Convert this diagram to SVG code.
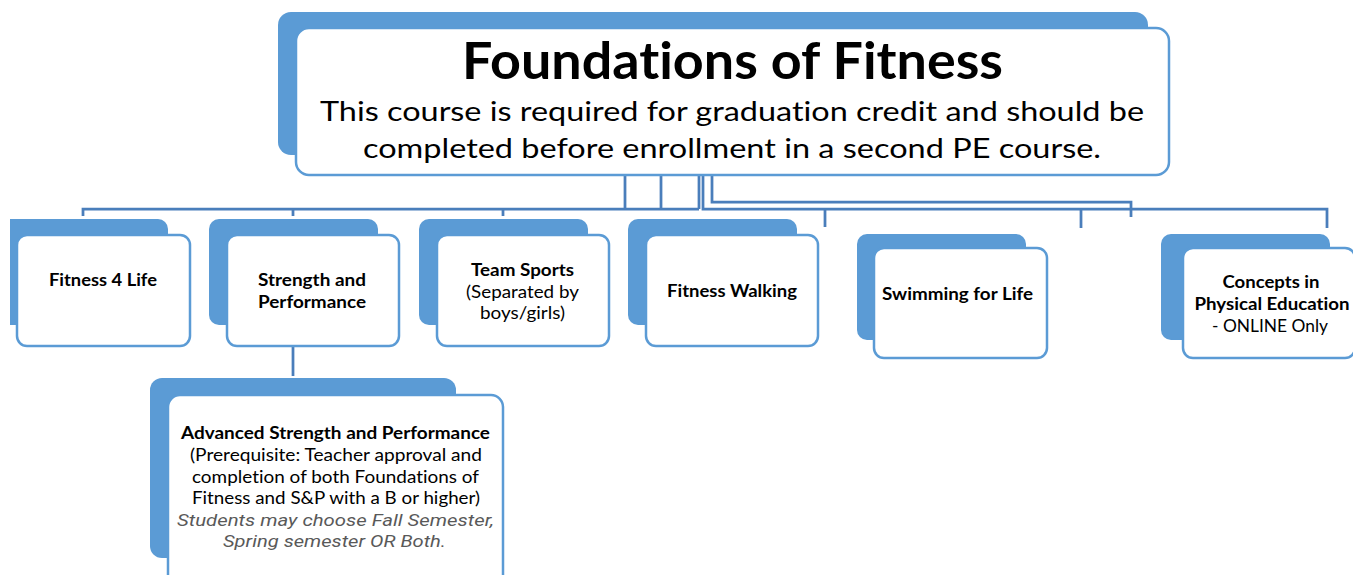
<svg xmlns="http://www.w3.org/2000/svg" width="1353" height="575" viewBox="0 0 1353 575">
<style>
.back{fill:#5B9BD5;stroke:none}
.front{fill:#FFFFFF;stroke:#5B9BD5;stroke-width:2.5}
.conn{fill:none;stroke:#4A7EBB;stroke-width:2.75}
.t{font-family:Lato,"Liberation Sans",sans-serif;fill:#000;text-anchor:middle;font-variant-ligatures:none;font-feature-settings:"liga" 0,"clig" 0,"dlig" 0,"calt" 0}
.b{font-weight:bold}
.i{font-family:Roboto,"Liberation Sans",sans-serif;font-style:italic;fill:#595959}
</style>
<defs>
<clipPath id="leftclip"><rect x="10" y="0" width="1343" height="575"/></clipPath>
</defs>
<rect width="1353" height="575" fill="#FFFFFF"/>
<g id="connectors">
<path class="conn" d="M625,175V209M661,175V209M699,175V209M83,216V209H699M293,209V216M503,209V216"/>
<path class="conn" d="M703,175V209H1327V228M825,209V227M1081,209V228"/>
<path class="conn" d="M712,175V202H1131V217"/>
<path class="conn" d="M293,346V376"/>
</g>
<g id="node-foundations">
<rect class="back" x="278" y="12" width="870" height="143" rx="13"/>
<rect class="front" x="296" y="28" width="873" height="147" rx="13"/>
<text class="t b" x="732.5" y="79" font-size="51" textLength="541" lengthAdjust="spacingAndGlyphs">Foundations of Fitness</text>
<text class="t" x="732" y="121" font-size="27" textLength="824" lengthAdjust="spacingAndGlyphs">This course is required for graduation credit and should be</text>
<text class="t" x="732" y="158" font-size="27" textLength="738" lengthAdjust="spacingAndGlyphs">completed before enrollment in a second PE course.</text>
</g>
<g id="node-fitness4life">
<g clip-path="url(#leftclip)"><rect class="back" x="-10" y="219" width="178" height="106" rx="10"/></g>
<rect class="front" x="17" y="235" width="173" height="111" rx="10"/>
<text class="t b" x="103" y="286" font-size="16.5" textLength="108" lengthAdjust="spacingAndGlyphs">Fitness 4 Life</text>
</g>
<g id="node-strength">
<rect class="back" x="209" y="219" width="169" height="106" rx="10"/>
<rect class="front" x="227" y="235" width="172" height="111" rx="10"/>
<text class="t b" x="312" y="286" font-size="16.5" textLength="108" lengthAdjust="spacingAndGlyphs">Strength and</text>
<text class="t b" x="312" y="308" font-size="16.5" textLength="108" lengthAdjust="spacingAndGlyphs">Performance</text>
</g>
<g id="node-teamsports">
<rect class="back" x="419" y="219" width="169" height="106" rx="10"/>
<rect class="front" x="437" y="235" width="172" height="111" rx="10"/>
<text class="t b" x="522.5" y="276" font-size="16.5" textLength="103" lengthAdjust="spacingAndGlyphs">Team Sports</text>
<text class="t" x="522.5" y="298" font-size="16.5" textLength="113" lengthAdjust="spacingAndGlyphs">(Separated by</text>
<text class="t" x="522.5" y="319" font-size="16.5" textLength="85" lengthAdjust="spacingAndGlyphs">boys/girls)</text>
</g>
<g id="node-walking">
<rect class="back" x="628" y="219" width="169" height="106" rx="10"/>
<rect class="front" x="646" y="235" width="172" height="111" rx="10"/>
<text class="t b" x="732" y="297" font-size="16.5" textLength="130" lengthAdjust="spacingAndGlyphs">Fitness Walking</text>
</g>
<g id="node-swimming">
<rect class="back" x="857" y="234" width="169" height="106" rx="10"/>
<rect class="front" x="874" y="248" width="173" height="110" rx="10"/>
<text class="t b" x="957.5" y="300" font-size="16.5" textLength="151" lengthAdjust="spacingAndGlyphs">Swimming for Life</text>
</g>
<g id="node-concepts">
<rect class="back" x="1161" y="234" width="169" height="106" rx="10"/>
<rect class="front" x="1183" y="248" width="172" height="110" rx="10"/>
<text class="t b" x="1271" y="288" font-size="16.5" textLength="97" lengthAdjust="spacingAndGlyphs">Concepts in</text>
<text class="t b" x="1272" y="310" font-size="16.5" textLength="155" lengthAdjust="spacingAndGlyphs">Physical Education</text>
<text class="t" x="1270" y="332" font-size="16.5" textLength="116" lengthAdjust="spacingAndGlyphs">- ONLINE Only</text>
</g>
<g id="node-advanced">
<rect class="back" x="150" y="378" width="306" height="180" rx="12"/>
<rect class="front" x="168" y="395" width="335" height="200" rx="12"/>
<text class="t b" x="335.5" y="439" font-size="16.5" textLength="309" lengthAdjust="spacingAndGlyphs">Advanced Strength and Performance</text>
<text class="t" x="336" y="461" font-size="16.5" textLength="292" lengthAdjust="spacingAndGlyphs">(Prerequisite: Teacher approval and</text>
<text class="t" x="335.5" y="483" font-size="16.5" textLength="287" lengthAdjust="spacingAndGlyphs">completion of both Foundations of</text>
<text class="t" x="336" y="504" font-size="16.5" textLength="288" lengthAdjust="spacingAndGlyphs">Fitness and S&amp;P with a B or higher)</text>
<text class="t i" x="335.5" y="526" font-size="17" textLength="317" lengthAdjust="spacingAndGlyphs">Students may choose Fall Semester,</text>
<text class="t i" x="334.5" y="547" font-size="17" textLength="223" lengthAdjust="spacingAndGlyphs">Spring semester OR Both.</text>
</g>
</svg>
